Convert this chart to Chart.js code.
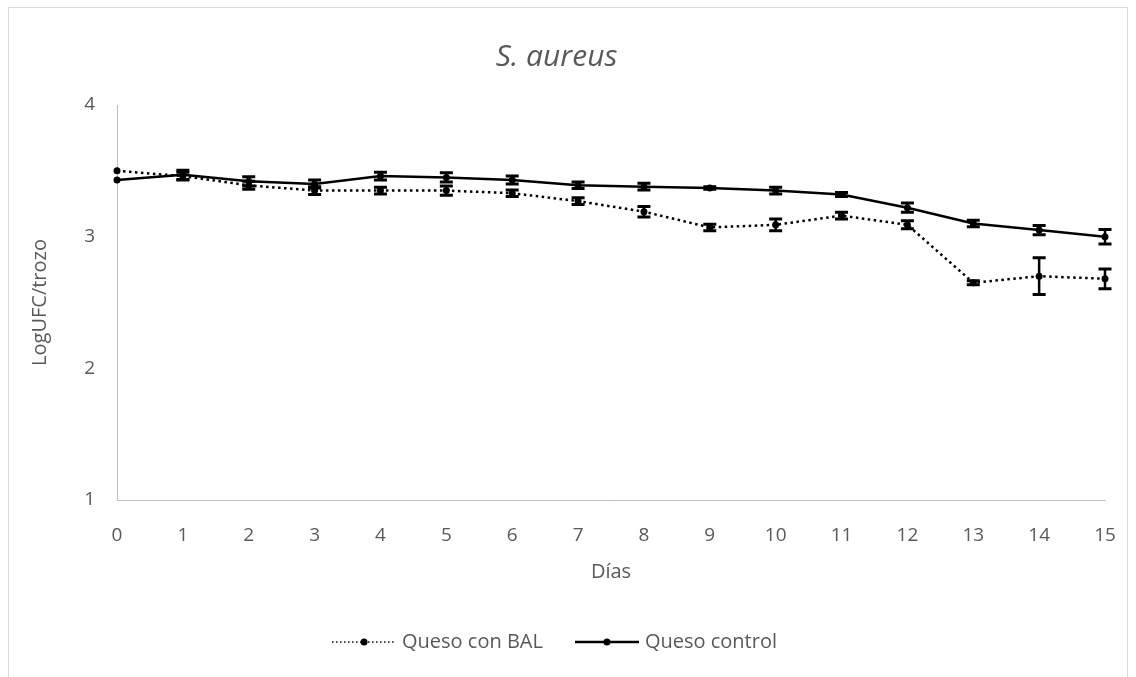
<!DOCTYPE html>
<html>
<head>
<meta charset="utf-8">
<script src="https://cdn.jsdelivr.net/npm/chart.js@4"></script>
<style>
  body { margin: 0; background: #fff; }
  #wrap { width: 1136px; height: 677px; }
</style>
</head>
<body>
<div id="wrap"><canvas id="myChart" width="1136" height="677"></canvas></div>
<script>
// days (x axis)
var dias = ['0', '1', '2', '3', '4', '5', '6', '7', '8', '9', '10', '11', '12', '13', '14', '15'];
// LogUFC/trozo
var quesoBAL = [3.50, 3.46, 3.39, 3.35, 3.35, 3.35, 3.33, 3.27, 3.19, 3.07, 3.09, 3.16, 3.09, 2.65, 2.70, 2.68];
var quesoControl = [3.43, 3.47, 3.42, 3.40, 3.46, 3.45, 3.43, 3.39, 3.38, 3.37, 3.35, 3.32, 3.22, 3.10, 3.05, 3.00];
// error bar half-lengths
var errBAL = [0, 0.03, 0.03, 0.03, 0.025, 0.035, 0.025, 0.025, 0.04, 0.025, 0.045, 0.025, 0.03, 0.015, 0.14, 0.075];
var errControl = [0, 0.035, 0.035, 0.03, 0.03, 0.035, 0.03, 0.025, 0.025, 0.01, 0.025, 0.015, 0.035, 0.025, 0.035, 0.055];
var yTicks = [1, 2, 3, 4];

var grey = '#595959';
var fontName = "'Open Sans', 'Liberation Sans', sans-serif";

// small legend sample: line with a dot in the middle
function legendIcon(dashed) {
	var c = document.createElement('canvas');
	c.width = 64; c.height = 10;
	var g = c.getContext('2d');
	g.strokeStyle = '#000';
	g.lineWidth = dashed ? 1.5 : 2.5;
	if (dashed) g.setLineDash([1.5, 2.5]);
	g.beginPath(); g.moveTo(0, 5); g.lineTo(64, 5); g.stroke();
	g.fillStyle = '#000';
	g.beginPath(); g.arc(32, 5, 3.5, 0, Math.PI * 2); g.fill();
	return c;
}

var errorBars = {
	id: 'errorBars',
	afterDatasetsDraw: function(chart) {
		var ctx = chart.ctx;
		var yScale = chart.scales.y;
		var errs = [errBAL, errControl];
		chart.data.datasets.forEach(function(ds, di) {
			var meta = chart.getDatasetMeta(di);
			meta.data.forEach(function(pt, i) {
				var e = errs[di][i];
				if (!e) return;
				var v = ds.data[i];
				var top = yScale.getPixelForValue(v + e);
				var bot = yScale.getPixelForValue(v - e);
				ctx.save();
				ctx.strokeStyle = '#000';
				ctx.lineWidth = 2.5;
				ctx.beginPath();
				ctx.moveTo(pt.x, top); ctx.lineTo(pt.x, bot);
				ctx.stroke();
				ctx.lineWidth = 3;
				ctx.beginPath();
				ctx.moveTo(pt.x - 6.5, top); ctx.lineTo(pt.x + 6.5, top);
				ctx.moveTo(pt.x - 6.5, bot); ctx.lineTo(pt.x + 6.5, bot);
				ctx.stroke();
				ctx.restore();
			});
		});
	}
};

var frame = {
	id: 'frame',
	beforeDraw: function(chart) {
		var ctx = chart.ctx;
		ctx.save();
		ctx.fillStyle = '#fff';
		ctx.fillRect(0, 0, chart.width, chart.height);
		ctx.strokeStyle = '#d9d9d9';
		ctx.lineWidth = 1;
		ctx.strokeRect(8.5, 7.5, 1119, 680);
		ctx.restore();
	}
};

var ctx = document.getElementById('myChart').getContext('2d');
var myLineChart = new Chart(ctx, {
	type: 'line',
	data: {
		labels: dias,
		datasets: [{
			label: 'Queso con BAL',
			data: quesoBAL,
			borderColor: '#000',
			backgroundColor: '#000',
			borderWidth: 2.5,
			borderDash: [2.5, 3.5],
			pointRadius: 3.5,
			pointBorderWidth: 0,
			fill: false
		},
		{
			label: 'Queso control',
			data: quesoControl,
			borderColor: '#000',
			backgroundColor: '#000',
			borderWidth: 2.5,
			pointRadius: 3.5,
			pointBorderWidth: 0,
			fill: false
		}]
	},
	options: {
		responsive: false,
		animation: false,
		layout: { padding: { left: 8, right: 31, top: 0, bottom: 15 } },
		scales: {
			x: {
				offset: false,
				grid: { display: false, drawTicks: false },
				border: { color: '#bfbfbf', width: 1 },
				ticks: { color: grey, font: { family: fontName, size: 19 }, padding: 24, maxRotation: 0 },
				title: { display: true, text: 'Días', color: grey, font: { family: fontName, size: 20 }, padding: { top: 10, bottom: 12 } },
				afterFit: function(s) { s.height = 96; s.paddingLeft = 0; s.paddingRight = 0; }
			},
			y: {
				min: 1, max: 4,
				afterBuildTicks: function(s) { s.ticks = yTicks.map(function(v) { return { value: v }; }); },
				grid: { display: false, drawTicks: false },
				border: { color: '#bfbfbf', width: 1 },
				ticks: { color: grey, font: { family: fontName, size: 19 }, padding: 22 },
				title: { display: true, text: 'LogUFC/trozo', color: grey, font: { family: fontName, size: 20 }, padding: { top: 20, bottom: 0 } },
				afterFit: function(s) { s.width = 109; }
			}
		},
		plugins: {
			title: {
				display: true,
				text: 'S. aureus',
				color: grey,
				font: { family: fontName, size: 30, style: 'italic', weight: 'normal' },
				padding: { top: 39, bottom: 30 }
			},
			legend: {
				position: 'bottom',
				labels: {
					usePointStyle: true,
					pointStyleWidth: 56,
					color: grey,
					font: { family: fontName, size: 20 },
					padding: 36,
					generateLabels: function(chart) {
						var items = Chart.defaults.plugins.legend.labels.generateLabels(chart);
						items.forEach(function(it, i) { it.pointStyle = legendIcon(i === 0); });
						return items;
					}
				}
			},
			tooltip: { enabled: false }
		}
	},
	plugins: [frame, errorBars]
});
</script>
</body>
</html>
